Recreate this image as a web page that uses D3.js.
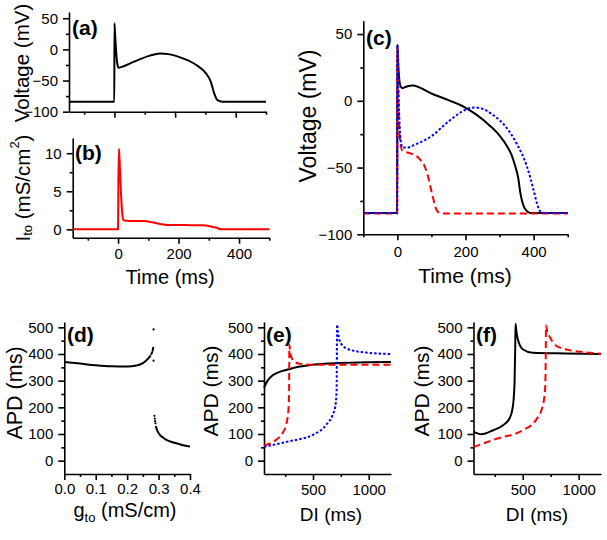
<!DOCTYPE html>
<html><head><meta charset="utf-8">
<script src="https://cdn.jsdelivr.net/npm/d3@7"></script>
<style>
body{margin:0;background:#fff;}
svg{display:block;font-family:"Liberation Sans",Arial,sans-serif;}
.axis path,.axis line{stroke:#000;stroke-width:1.6;}
.axis text{font-size:15px;fill:#000;font-family:"Liberation Sans",Arial,sans-serif;}
</style></head><body>
<svg id="c" width="607" height="540"></svg>
<script>
// ---- Panel (a): action potential ----
const aTime = [-150, -0.5, 0, 2, 5, 9, 14, 25, 63, 117, 150, 183, 226, 270, 302, 318, 329, 340, 356, 500];
const aVolt = [-84, -84, 42, 25, 0, -22, -29.5, -28, -20, -10, -6.5, -8, -14.5, -25, -38.5, -52, -70.5, -81.5, -84, -84];
// ---- Panel (b): I_to ----
const bTime = [-150, 0, 1, 3, 6, 10, 13, 16, 20, 40, 83, 127, 165, 237, 280, 300, 326, 342, 500];
const bIto  = [0, 0, 6, 10.6, 8, 4.5, 2.5, 1.4, 1.15, 1.1, 1.1, 0.8, 0.57, 0.55, 0.52, 0.45, 0.2, 0, 0];
// ---- Panel (c): three action potentials ----
const cBlackT = [-100, -0.5, 0, 3, 8, 14, 25, 45, 100, 150, 194, 230, 273, 300, 322, 336, 346, 355, 361, 366, 371, 380, 390, 500];
const cBlackV = [-84, -84, 42, 25, 12, 9.5, 10.5, 11.5, 5.5, 0.5, -4.3, -10, -19, -26, -34, -41, -49, -58, -69, -75, -79, -82.5, -84, -84];
const cBlueT = [-100, -0.5, 0, 3, 8, 15, 30, 50, 100, 150, 200, 225, 250, 280, 320, 350, 380, 400, 410, 420, 430, 500];
const cBlueV = [-84, -84, 42, 10, -25, -35, -35, -33, -26.5, -15.5, -6.7, -5, -6, -10.5, -20, -32, -49, -67, -77, -83, -84, -84];
const cRedT = [-100, -0.5, 0, 3, 7, 15, 40, 67, 78, 87, 95, 101, 106, 111, 121, 135, 500];
const cRedV = [-84.5, -84.5, 40, 0, -28, -37.5, -39.5, -44, -48, -54, -62, -69, -74, -79, -83.5, -84.5, -84.5];
// ---- Panel (d): APD vs g_to ----
const dUpperG = [0, 0.05, 0.1, 0.15, 0.2, 0.23, 0.25, 0.26, 0.27, 0.275];
const dUpperA = [370, 364, 358, 354, 353, 357, 366, 375, 387, 395];
const dDotsG = [0.277, 0.279, 0.281, 0.282, 0.283, 0.284, 0.284, 0.287, 0.288, 0.289, 0.290];
const dDotsA = [400, 405, 412, 418, 423, 492, 375, 168, 158, 148, 140];
const dLowerG = [0.291, 0.293, 0.297, 0.304, 0.315, 0.325, 0.34, 0.356, 0.375, 0.4];
const dLowerA = [130, 122, 110, 97, 86, 78, 71, 65, 59, 53];
// ---- Panel (e): APD vs DI ----
const eBlackDI = [60, 94, 138, 200, 265, 382, 500, 735, 1000, 1200];
const eBlackA  = [274, 301, 320, 333, 341, 353, 360, 366, 369, 370];
const eRedDI = [60, 168, 226, 262, 279, 285, 288, 292, 300, 329, 388, 500, 1200];
const eRedA  = [57, 78, 103, 140, 190, 253, 435, 420, 397, 372, 363, 360, 360];
const eBlueDI = [60, 265, 500, 618, 676, 700, 712, 716, 725, 735, 794, 941, 1200];
const eBlueA  = [52, 71, 97, 134, 172, 203, 266, 510, 480, 454, 422, 407, 400];
// ---- Panel (f): APD vs DI ----
const fBlackDI = [60, 133, 235, 324, 383, 412, 427, 433, 436, 445, 456, 475, 500, 588, 882, 1200];
const fBlackA  = [108, 99, 114, 133, 159, 203, 292, 420, 513, 480, 456, 432, 418, 405, 402, 400];
const fRedDI = [60, 265, 500, 618, 677, 700, 706, 708, 720, 735, 794, 882, 1029, 1200];
const fRedA  = [51, 82, 114, 152, 203, 266, 400, 507, 485, 470, 433, 418, 408, 401];
// ---- tick values ----
const timeMajorTicks = [0, 200, 400];
const timeMinorTicks = [-100, 100, 300, 500];
const voltMajorTicks = [-100, -50, 0, 50];
const voltMinorTicks = [-75, -25, 25];
const itoMajorTicks = [0, 5, 10];
const itoMinorTicks = [2.5, 7.5];
const apdMajorTicks = [0, 100, 200, 300, 400, 500];
const apdMinorTicks = [50, 150, 250, 350, 450];
const gMajorTicks = [0, 0.1, 0.2, 0.3, 0.4];
const gMinorTicks = [0.05, 0.15, 0.25, 0.35];
const diMajorTicks = [500, 1000];
const diMinorTicks = [250, 750];

const svg = d3.select("#c");
const FONT = '"Liberation Sans",Arial,sans-serif';

function panel(o){
  const x = d3.scaleLinear().domain(o.xd).range([o.x0, o.x1]);
  const y = d3.scaleLinear().domain(o.yd).range([o.y1, o.y0]);
  svg.append("g").attr("class","axis").attr("transform",`translate(0,${o.y1})`)
    .call(d3.axisBottom(x).tickValues(o.xMinor).tickSize(3).tickFormat(""))
    .select(".domain").remove();
  const xa = d3.axisBottom(x).tickValues(o.xMajor).tickSize(6).tickSizeOuter(0).tickPadding(o.xPad || 5);
  if (o.xFmt === null) xa.tickFormat(""); else if (o.xFmt) xa.tickFormat(o.xFmt);
  svg.append("g").attr("class","axis").attr("transform",`translate(0,${o.y1})`).call(xa);
  svg.append("g").attr("class","axis").attr("transform",`translate(${o.x0},0)`)
    .call(d3.axisLeft(y).tickValues(o.yMinor).tickSize(3).tickFormat(""))
    .select(".domain").remove();
  svg.append("g").attr("class","axis").attr("transform",`translate(${o.x0},0)`)
    .call(d3.axisLeft(y).tickValues(o.yMajor).tickSize(6).tickSizeOuter(0).tickPadding(5));
  svg.append("text").attr("x", o.lx).attr("y", o.ly).text(o.label)
    .attr("font-size", 21).attr("font-weight","bold").attr("font-family", FONT);
  return {x, y};
}

function curve(p, xs, ys, color, dash, w){
  const pts = xs.map((v,i)=>[v, ys[i]]);
  svg.append("path").datum(pts)
    .attr("d", d3.line().x(d=>p.x(d[0])).y(d=>p.y(d[1])).curve(d3.curveMonotoneX))
    .attr("fill","none").attr("stroke",color).attr("stroke-width", w||2)
    .attr("stroke-dasharray", dash||null).attr("stroke-linejoin","round");
}

function vlabel(cx, cy, size, build){
  const t = svg.append("text").attr("transform",`translate(${cx},${cy}) rotate(-90)`)
    .attr("text-anchor","middle").attr("dominant-baseline","central")
    .attr("font-size", size).attr("font-family", FONT);
  build(t);
}
function hlabel(cx, by, size, build){
  const t = svg.append("text").attr("x", cx).attr("y", by)
    .attr("text-anchor","middle").attr("font-size", size).attr("font-family", FONT);
  build(t);
}

// (a)
const pa = panel({xd:[-150,500], yd:[-100,60], x0:69, x1:266, y0:12, y1:111.7,
  xMajor:timeMajorTicks, xMinor:timeMinorTicks, yMajor:voltMajorTicks, yMinor:voltMinorTicks,
  xFmt:null, label:"(a)", lx:72, ly:35});
curve(pa, aTime, aVolt, "#000", null, 2);
vlabel(21, 63, 20.5, t=>t.text("Voltage (mV)"));

// (b)
const pb = panel({xd:[-150,500], yd:[-1.1,12], x0:72.7, x1:269.3, y0:138, y1:237.7,
  xMajor:timeMajorTicks, xMinor:timeMinorTicks, yMajor:itoMajorTicks, yMinor:itoMinorTicks,
  xPad:5, label:"(b)", lx:75, ly:160});
curve(pb, bTime, bIto, "#ff0000", null, 2);
vlabel(22, 188, 20.5, t=>{
  t.append("tspan").text("I");
  t.append("tspan").attr("font-size",13).attr("dy",5).text("to");
  t.append("tspan").attr("dy",-5).text(" (mS/cm");
  t.append("tspan").attr("font-size",13).attr("dy",-8).text("2");
  t.append("tspan").attr("dy",8).text(")");
});
hlabel(170, 284, 20, t=>t.text("Time (ms)"));

// (c)
const pc = panel({xd:[-100,500], yd:[-100,60], x0:363.3, x1:567.7, y0:20.7, y1:234.3,
  xMajor:timeMajorTicks, xMinor:timeMinorTicks, yMajor:voltMajorTicks, yMinor:voltMinorTicks,
  xPad:6, label:"(c)", lx:366, ly:45});
curve(pc, cBlackT, cBlackV, "#000", null, 2);
curve(pc, cRedT, cRedV, "#ff0000", "7,4", 2);
curve(pc, cBlueT, cBlueV, "#0000ff", "2.5,2", 2);
vlabel(308, 116, 23, t=>t.text("Voltage (mV)"));
hlabel(465, 283, 21, t=>t.text("Time (ms)"));

// (d)
const pd = panel({xd:[0,0.4], yd:[-50,520], x0:64.3, x1:190, y0:322, y1:474,
  xMajor:gMajorTicks, xMinor:gMinorTicks, yMajor:apdMajorTicks, yMinor:apdMinorTicks,
  xFmt:d3.format(".1f"), xPad:3, label:"(d)", lx:67, ly:342});
curve(pd, dUpperG, dUpperA, "#000", null, 2);
curve(pd, dLowerG, dLowerA, "#000", null, 2);
svg.append("g").selectAll("circle").data(dDotsG).join("circle")
  .attr("cx", d=>pd.x(d)).attr("cy", (d,i)=>pd.y(dDotsA[i])).attr("r",1.1).attr("fill","#000");
vlabel(15, 393, 21.5, t=>t.text("APD (ms)"));
hlabel(125, 517, 20, t=>{
  t.append("tspan").text("g");
  t.append("tspan").attr("font-size",13).attr("dy",5).text("to");
  t.append("tspan").attr("dy",-5).text(" (mS/cm)");
});

// (e)
const pe = panel({xd:[60,1200], yd:[-50,520], x0:264, x1:391, y0:322, y1:474,
  xMajor:diMajorTicks, xMinor:diMinorTicks, yMajor:apdMajorTicks, yMinor:apdMinorTicks,
  xFmt:d3.format("d"), xPad:4, label:"(e)", lx:266, ly:342});
curve(pe, eBlackDI, eBlackA, "#000", null, 2);
curve(pe, eRedDI, eRedA, "#ff0000", "7,4", 2);
curve(pe, eBlueDI, eBlueA, "#0000ff", "2.5,2", 2);
vlabel(210, 391, 21, t=>t.text("APD (ms)"));
hlabel(331, 521, 19, t=>t.text("DI (ms)"));

// (f)
const pf = panel({xd:[60,1200], yd:[-50,520], x0:473.5, x1:601, y0:322, y1:474,
  xMajor:diMajorTicks, xMinor:diMinorTicks, yMajor:apdMajorTicks, yMinor:apdMinorTicks,
  xFmt:d3.format("d"), xPad:4, label:"(f)", lx:476, ly:342});
curve(pf, fBlackDI, fBlackA, "#000", null, 2);
curve(pf, fRedDI, fRedA, "#ff0000", "7,4", 2);
vlabel(421, 391, 21, t=>t.text("APD (ms)"));
hlabel(537, 521, 19, t=>t.text("DI (ms)"));
</script>
</body></html>
